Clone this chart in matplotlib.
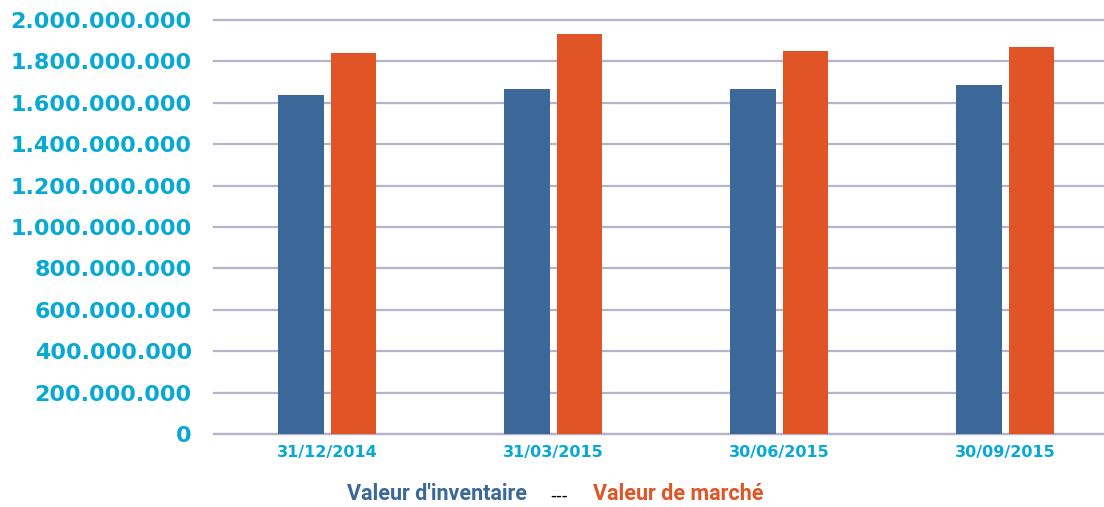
import matplotlib.pyplot as plt
from matplotlib.ticker import FuncFormatter, MultipleLocator

# Données
dates = ['31/12/2014', '31/03/2015', '30/06/2015', '30/09/2015']
valeur_inventaire = [1638000000, 1668000000, 1668000000, 1688000000]
valeur_marche = [1840000000, 1930000000, 1850000000, 1870000000]

bleu = '#3b6799'
orange = '#e05426'
cyan = '#06a8d6'
gris = '#b3b3c9'

W, H = 1104, 507
fig = plt.figure(figsize=(W / 100, H / 100), dpi=100)
ax = fig.add_axes([214 / W, 1 - 434 / H, 904 / W, 414 / H])

x = list(range(len(dates)))
largeur = 0.203
ax.bar([i - 0.115 for i in x], valeur_inventaire, width=largeur, color=bleu, zorder=3)
ax.bar([i + 0.117 for i in x], valeur_marche, width=largeur, color=orange, zorder=3)

ax.set_xlim(-0.5, 3.5)
ax.set_ylim(0, 2000000000)
ax.yaxis.set_major_locator(MultipleLocator(200000000))
ax.yaxis.set_major_formatter(FuncFormatter(lambda v, p: f"{int(v):,}".replace(',', '.')))
ax.set_xticks(x)
ax.set_xticklabels(dates)

ax.grid(axis='y', color=gris, linewidth=1.6, zorder=0)
for ligne in ax.get_ygridlines():
    ligne.set_clip_on(False)
for cote in ['top', 'right', 'left']:
    ax.spines[cote].set_visible(False)
ax.spines['bottom'].set_color(gris)
ax.spines['bottom'].set_linewidth(1.6)
ax.tick_params(length=0)
ax.tick_params(axis='y', pad=16, labelsize=16, labelcolor=cyan)
ax.tick_params(axis='x', pad=8, labelsize=11.5, labelcolor=cyan)
for t in ax.get_yticklabels() + ax.get_xticklabels():
    t.set_fontweight('bold')

# Légende en texte
police = ['Roboto', 'DejaVu Sans']
fig.text(347 / W, 1 - 494 / H, "Valeur d'inventaire", color=bleu, fontsize=15.5,
         fontweight='bold', family=police, ha='left', va='center')
fig.text(559 / W, 1 - 496 / H, "---", color='black', fontsize=12,
         family='DejaVu Sans', ha='center', va='center')
fig.text(593 / W, 1 - 494 / H, "Valeur de marché", color=orange, fontsize=15.5,
         fontweight='bold', family=police, ha='left', va='center')

fig.savefig('out.png', dpi=100)
